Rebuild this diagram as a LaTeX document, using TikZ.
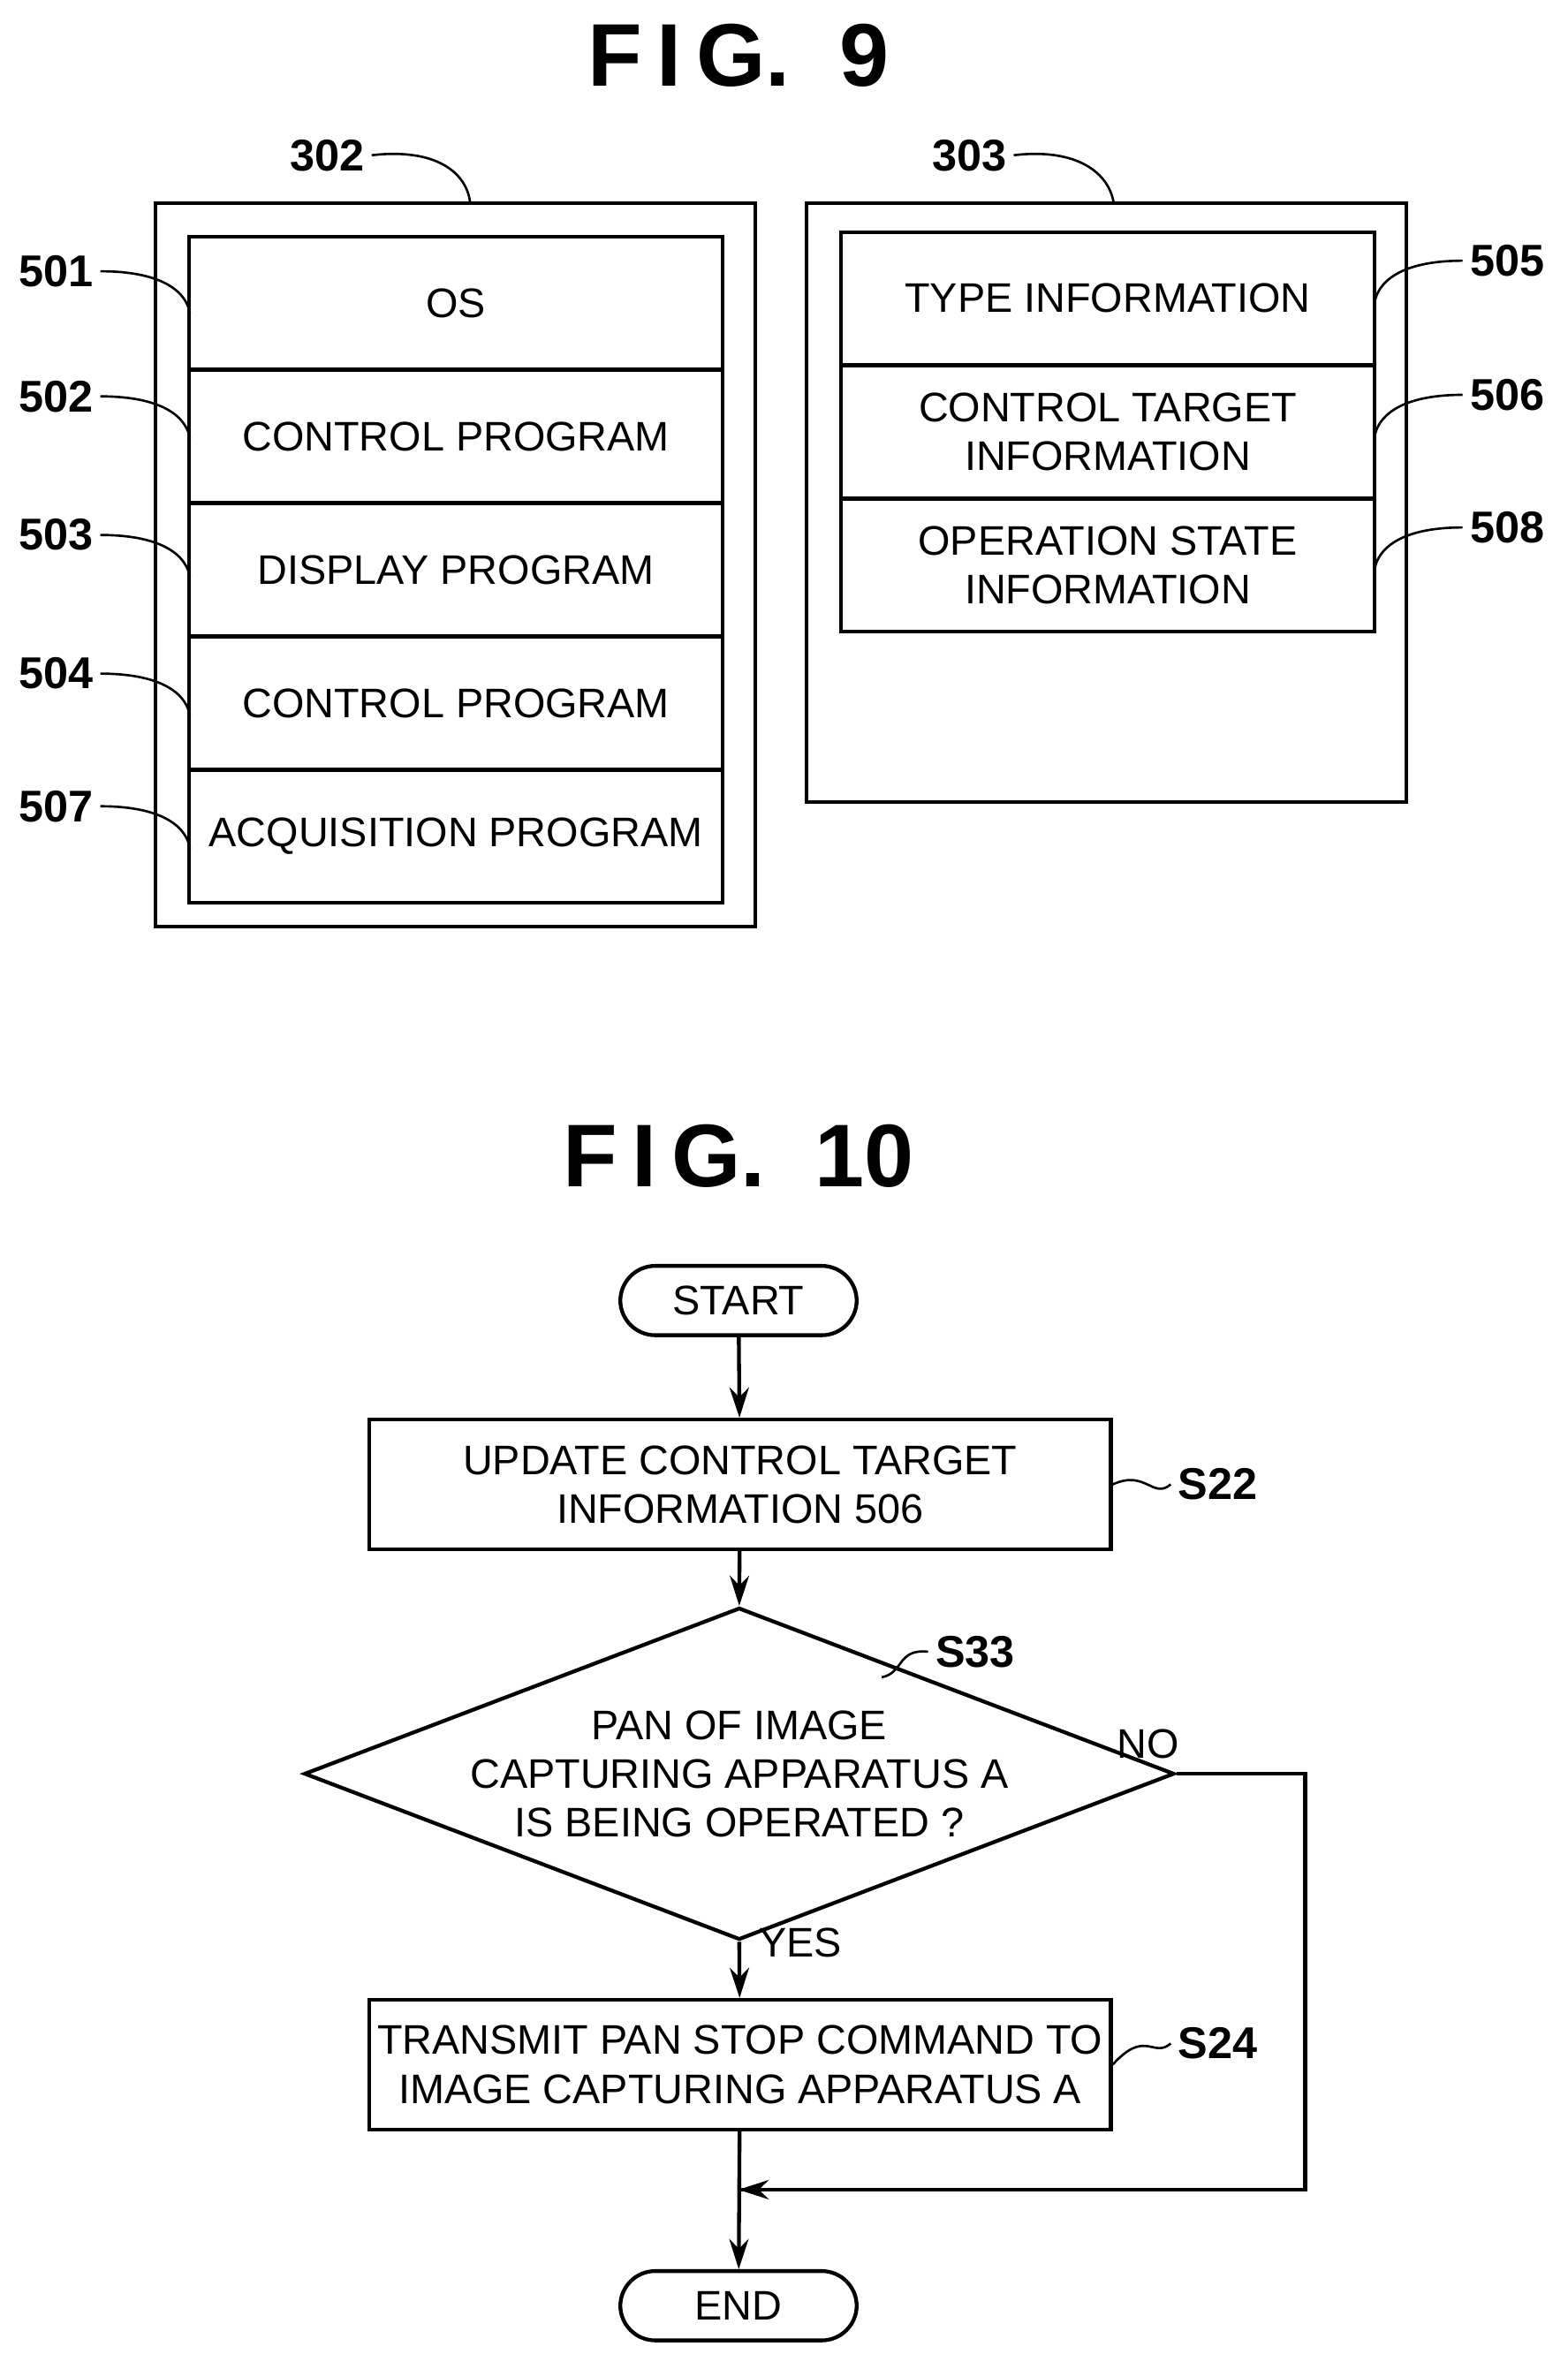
\documentclass[tikz,border=0pt]{standalone}
\usepackage{fontspec}
\setmainfont{Liberation Sans}
\usetikzlibrary{shapes.geometric, arrows.meta, positioning, calc}
\tikzset{cell/.style={draw, line width=1.8pt, minimum width=8.85cm, minimum height=2.2cm, align=center, inner sep=0pt}}
\tikzset{rcell/.style={cell, minimum width=8.85cm}}
\tikzset{frame/.style={draw, line width=1.8pt}}
\tikzset{process/.style={draw, line width=1.8pt, minimum width=12.3cm, minimum height=2.15cm, align=center, inner sep=0pt}}
\tikzset{term/.style={draw, line width=1.8pt, rounded corners=0.58cm, minimum width=3.92cm, minimum height=1.15cm, inner sep=0pt}}
\tikzset{ref/.style={font=\fontsize{21}{24}\selectfont\bfseries}}
\tikzset{lead/.style={line width=1.1pt}}
\tikzset{flow/.style={line width=1.8pt, -{Stealth[length=5mm, width=3.2mm]}}}
\tikzset{title/.style={font=\fontsize{42}{46}\selectfont\bfseries}}
\begin{document}
\begin{tikzpicture}[x=0.025cm, y=-0.025cm, font=\fontsize{19.5}{23}\selectfont]
\useasboundingbox (0,0) rectangle (1040,1572);
% FIG. 9
\node[title] (fig9) at (490,37) {F\,I\,G.\ \ 9};
\draw[frame] (103,135) rectangle (501,615);
\draw[frame] (535,135) rectangle (933,532);
\node[cell] (os) at (302.5,201) {OS};
\node[cell] (ctrl1) at (302.5,289.5) {CONTROL PROGRAM};
\node[cell] (disp) at (302.5,378) {DISPLAY PROGRAM};
\node[cell] (ctrl2) at (302.5,466.5) {CONTROL PROGRAM};
\node[cell] (acq) at (302.5,555) {ACQUISITION PROGRAM};
\node[rcell] (type) at (735,198) {TYPE INFORMATION};
\node[rcell] (target) at (735,286.5) {CONTROL TARGET\\INFORMATION};
\node[rcell] (state) at (735,375) {OPERATION STATE\\INFORMATION};
% reference numerals
\node[ref] (l302) at (217,103) {302};
\node[ref] (l303) at (643,103) {303};
\draw[lead] (l302.east) .. controls (290,98) and (310,115) .. (312,135);
\draw[lead] (l303.east) .. controls (715,98) and (736,115) .. (739,135);
\foreach \n/\y in {501/180,502/263,503/355,504/447,507/535}{
  \node[ref] (l\n) at (37,\y) {\n};
  \draw[lead] (l\n.east) .. controls (110,\y) and (124,\y+15) .. (126,\y+28);
}
\foreach \n/\y in {505/173,506/262,508/350}{
  \node[ref] (l\n) at (1000,\y) {\n};
  \draw[lead] (l\n.west) .. controls (928,\y) and (914,\y+15) .. (912,\y+28);
}
% FIG. 10
\node[title] (fig10) at (490,767) {F\,I\,G.\ \ 10};
\node[term] (start) at (490,863) {START};
\node[process] (s22) at (491,985) {UPDATE CONTROL TARGET\\INFORMATION 506};
\node[draw, line width=1.8pt, diamond, aspect=2.62, minimum width=12.38cm, minimum height=4.73cm, align=center, inner sep=0pt] (s33) at (490.5,1177) {PAN OF IMAGE\\CAPTURING APPARATUS A\\IS BEING OPERATED ?};
\node[process] (s24) at (491,1370) {TRANSMIT PAN STOP COMMAND TO\\IMAGE CAPTURING APPARATUS A};
\node[term] (end) at (490,1530) {END};
\node[ref] (ls22) at (808,985) {S22};
\node[ref] (ls33) at (647,1096) {S33};
\node[ref] (ls24) at (808,1356) {S24};
\draw[lead] (s22.east) .. controls (760,975) and (765,995) .. (ls22.west);
\draw[lead] (s24.east) .. controls (760,1346) and (765,1366) .. (ls24.west);
\draw[lead] (585,1113) .. controls (600,1110) and (595,1094) .. (ls33.west);
\node (no) at (762,1157) {NO};
\node (yes) at (531,1289) {YES};
\coordinate (join) at (490,1453);
\draw[flow] (start) -- (s22);
\draw[flow] (s22) -- (s33.north);
\draw[flow] (s33.south) -- (s24);
\draw[line width=1.8pt] (s33.east) -- (866,1177) |- (join);
\draw[flow] (866,1453) -- (join);
\draw[flow] (s24) -- (end);
\end{tikzpicture}
\end{document}
